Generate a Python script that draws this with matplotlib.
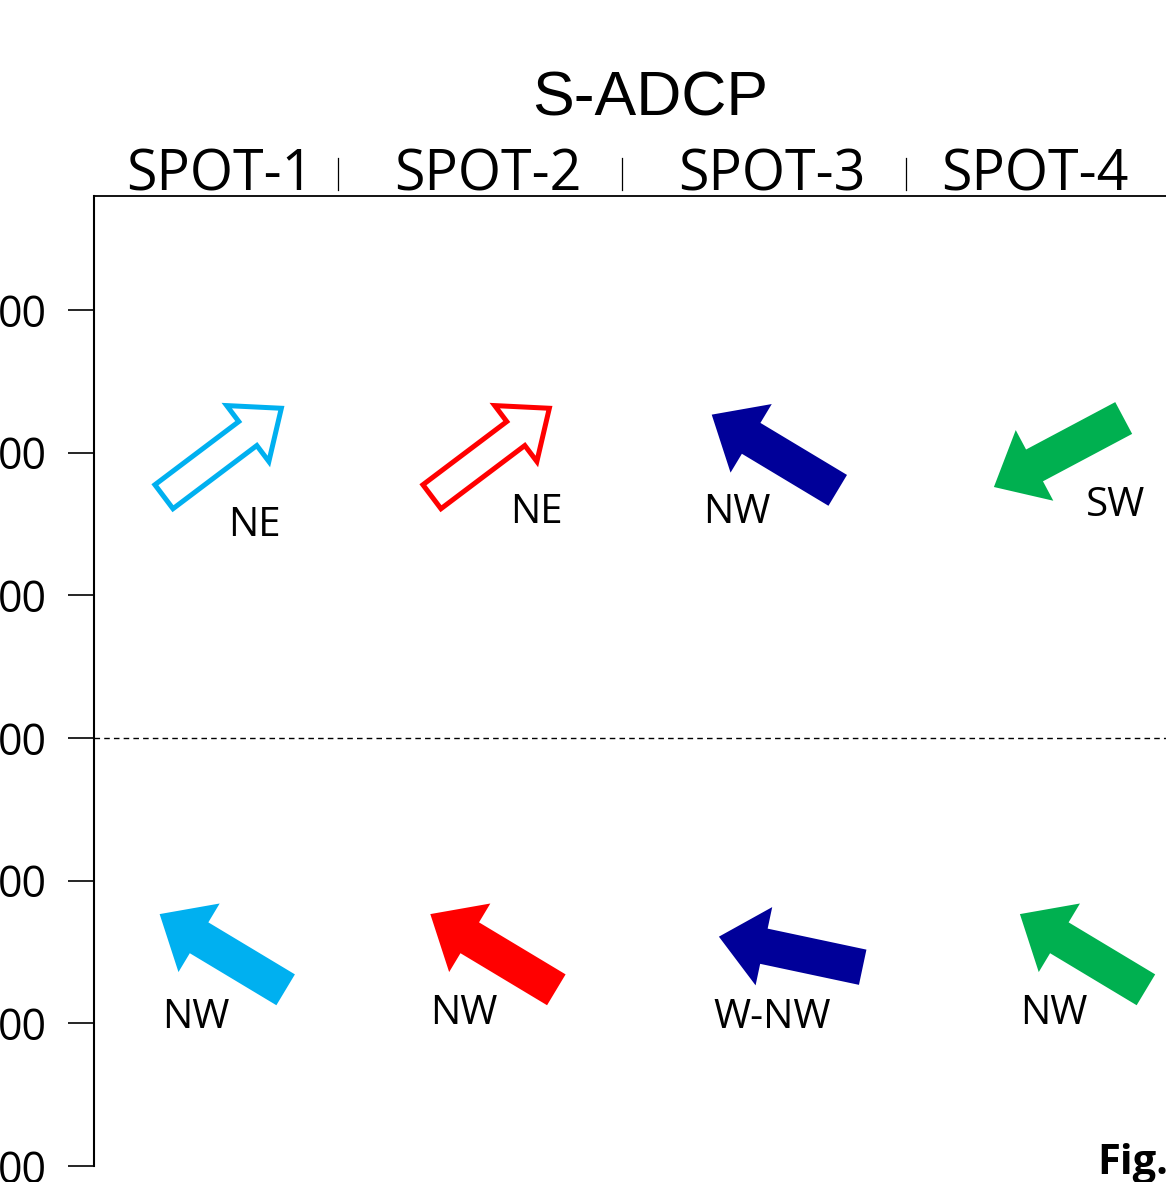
import numpy as np
import matplotlib.pyplot as plt
from matplotlib.patches import FancyArrow
from matplotlib.transforms import IdentityTransform

plt.rcParams['font.family'] = ['Open Sans', 'DejaVu Sans']

# spots along the top
spots = ['SPOT-1', 'SPOT-2', 'SPOT-3', 'SPOT-4']
spot_x = [0.47, 1.47, 2.53, 3.51]
sep_x = [0.91, 1.97, 3.03]
colors = ['#00B0F0', '#FF0000', '#000099', '#00B050']

# upper layer arrows (direction in degrees, counter-clockwise from east)
top_y = 5.0
top_x = [0.48, 1.48, 2.54, 3.60]
top_deg = [37, 37, 149, 208]
top_dir = ['NE', 'NE', 'NW', 'SW']
top_lab_x = [0.60, 1.65, 2.40, 3.81]
top_lab_y = [4.49, 4.58, 4.58, 4.63]
top_fill = [False, False, True, True]

# lower layer arrows
bot_y = 1.5
bot_x = [0.48, 1.49, 2.60, 3.69]
bot_deg = [149, 149, 168, 149]
bot_dir = ['NW', 'NW', 'W-NW', 'NW']
bot_lab_x = [0.38, 1.38, 2.53, 3.58]
bot_lab_y = [1.04, 1.07, 1.04, 1.07]
bot_fill = [True, True, True, True]

yticks = [0, 1, 2, 3, 4, 5, 6]
ytick_labels = ['00'] * 7
mid_line = 3

W, H = 1166, 1182
fig = plt.figure(figsize=(W / 100, H / 100), dpi=100)
ax = fig.add_axes([94 / W, 16 / H, 1072 / W, 970 / H])
ax.set_xlim(0, 4)
ax.set_ylim(0, 970 / 142.7)

ax.spines['right'].set_visible(False)
ax.spines['bottom'].set_visible(False)
ax.spines['left'].set_linewidth(1.5)
ax.spines['top'].set_linewidth(1.3)
ax.set_xticks([])
ax.set_yticks(yticks)
ax.set_yticklabels(ytick_labels)
ax.tick_params(axis='y', length=19, width=1.2, pad=15, labelsize=31)

ax.axhline(mid_line, color='black', lw=1, ls=(0, (4, 3)))

# headings
ax.text(2.075, 1.0835, 'S-ADCP', transform=ax.get_xaxis_transform(),
        ha='center', va='baseline', fontsize=45, family='Liberation Sans')
for x, s in zip(spot_x, spots):
    ax.text(x, 1.006, s, transform=ax.get_xaxis_transform(),
            ha='center', va='baseline', fontsize=40)
for x in sep_x:
    ax.plot([x, x], [1.006, 1.039], color='black', lw=0.9,
            transform=ax.get_xaxis_transform(), clip_on=False)


def draw_arrow(x, y, deg, color, fill):
    cx, cy = ax.transData.transform((x, y))
    L = 147
    a = np.deg2rad(deg)
    dx, dy = L * np.cos(a), L * np.sin(a)
    if fill:
        p = FancyArrow(cx - dx / 2, cy - dy / 2, dx, dy, width=36,
                       head_width=80, head_length=46, length_includes_head=True,
                       facecolor=color, edgecolor='none',
                       transform=IdentityTransform(), clip_on=False)
    else:
        p = FancyArrow(cx - dx / 2, cy - dy / 2, dx, dy, width=30,
                       head_width=70, head_length=42, length_includes_head=True,
                       fill=False, edgecolor=color, linewidth=3.6,
                       transform=IdentityTransform(), clip_on=False)
    ax.add_patch(p)


for i in range(4):
    draw_arrow(top_x[i], top_y, top_deg[i], colors[i], top_fill[i])
    ax.text(top_lab_x[i], top_lab_y[i], top_dir[i], ha='center', va='center',
            fontsize=29)
    draw_arrow(bot_x[i], bot_y, bot_deg[i], colors[i], bot_fill[i])
    ax.text(bot_lab_x[i], bot_lab_y[i], bot_dir[i], ha='center', va='center',
            fontsize=29)

fig.text(1097 / W, 1 - 1163 / H, 'Fig.', ha='left', va='center',
         fontsize=30, fontweight='bold')

fig.savefig('out.png', dpi=100)
